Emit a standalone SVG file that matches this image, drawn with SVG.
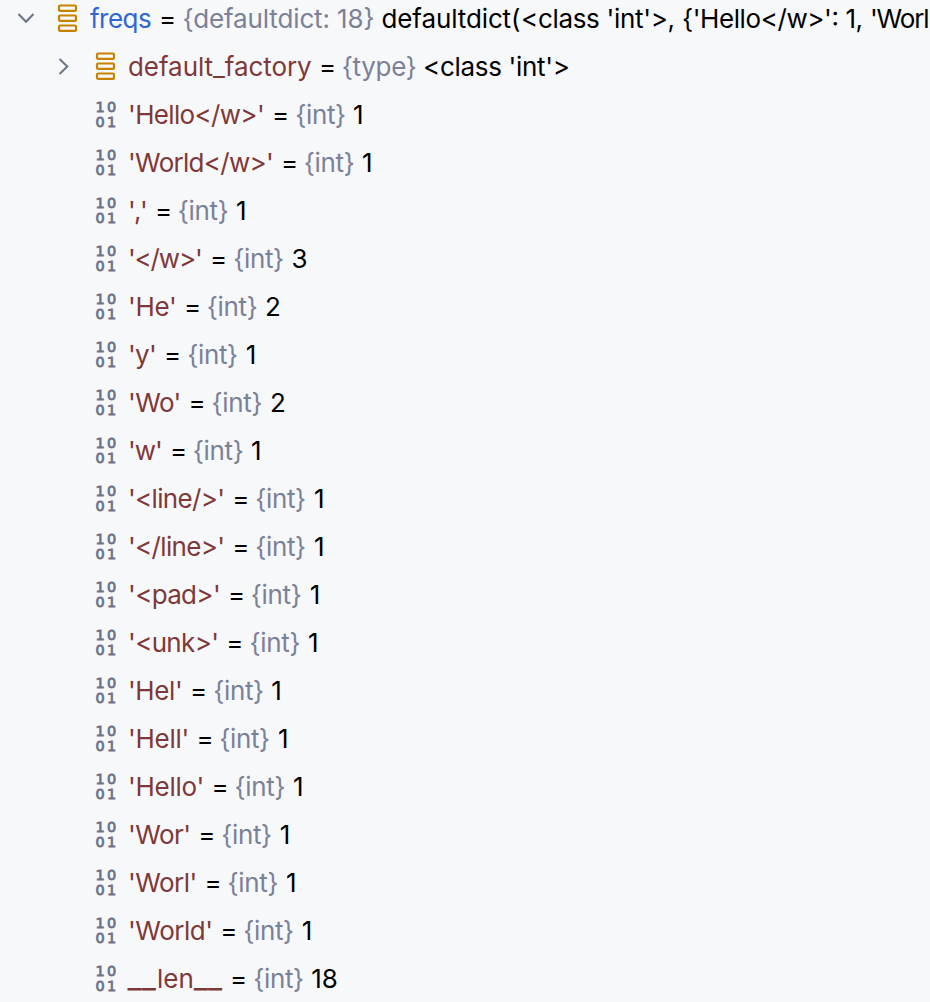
<svg xmlns="http://www.w3.org/2000/svg" width="930" height="1002" viewBox="0 0 930 1002">
<style>
text{font-family:Inter,"Liberation Sans",sans-serif;font-size:26px;fill:#000;white-space:pre}
.k{fill:#7f3838}.n{fill:#2f66d4}.t{fill:#7b8196}
.b text{font-family:"DejaVu Sans",sans-serif;font-size:14.400px;fill:#6c7488;stroke:#6c7488;stroke-width:.8px;letter-spacing:2.300px;text-anchor:middle}
.o rect{fill:none;stroke:#c78300;stroke-width:2.200}
.c{fill:none;stroke:#6c7488;stroke-width:2}
.u{font-size:31px}
</style>
<defs>
<g id="ic" class="o"><rect x="0.500" y="0.500" width="17" height="5.400" rx="1.200"/><rect x="0.500" y="10.500" width="17" height="5.400" rx="1.200"/><rect x="0.500" y="20.500" width="17" height="5.400" rx="1.200"/></g>
<g id="bi" class="b"><text x="0" y="0">10</text><text x="0" y="15.600">01</text></g>
</defs>
<rect width="930" height="1002" fill="#f7f8fa"/>
<g id="connectors"><path class="c" d="M18.500 14 L26 21.800 L33.500 14"/><path class="c" d="M59.500 59 L67.300 66.500 L59.500 74"/></g>
<g id="freqs"><use href="#ic" x="58.500" y="5"/><text x="90" y="27.700"><tspan class="n" textLength="61.700">freqs</tspan> <tspan x="159">= </tspan><tspan class="t" x="182.500" textLength="192">{defaultdict: 18}</tspan> <tspan x="381.500" textLength="139">defaultdict(</tspan><tspan x="521" textLength="161">&lt;class 'int'&gt;, </tspan><tspan x="682" textLength="188">{'Hello&lt;/w&gt;': 1, </tspan><tspan x="870" textLength="59.500">'Worl</tspan></text></g>
<g id="default_factory"><use href="#ic" x="96.500" y="53"/><text x="128" y="75.700"><tspan class="k" textLength="183.700">default_factory</tspan> <tspan x="319">= </tspan><tspan class="t" x="341.800" textLength="75">{type}</tspan> <tspan x="423" textLength="147">&lt;class 'int'&gt;</tspan></text></g>
<g id="r1"><use href="#bi" x="107" y="111.700"/><text y="123.700"><tspan class="k" x="128" textLength="136.700">'Hello&lt;/w&gt;'</tspan> <tspan x="272">= </tspan><tspan class="t" x="295.200" textLength="51">{int}</tspan> <tspan x="353">1</tspan></text></g>
<g id="r2"><use href="#bi" x="107" y="159.700"/><text y="171.700"><tspan class="k" x="128" textLength="145.700">'World&lt;/w&gt;'</tspan> <tspan x="281">= </tspan><tspan class="t" x="303.800" textLength="51">{int}</tspan> <tspan x="362">1</tspan></text></g>
<g id="r3"><use href="#bi" x="107" y="207.700"/><text y="219.700"><tspan class="k" x="128" textLength="19.700">','</tspan> <tspan x="155">= </tspan><tspan class="t" x="177.800" textLength="51">{int}</tspan> <tspan x="236">1</tspan></text></g>
<g id="r4"><use href="#bi" x="107" y="255.700"/><text y="267.700"><tspan class="k" x="128" textLength="74.700">'&lt;/w&gt;'</tspan> <tspan x="210">= </tspan><tspan class="t" x="233.200" textLength="51">{int}</tspan> <tspan x="291.500">3</tspan></text></g>
<g id="r5"><use href="#bi" x="107" y="303.700"/><text y="315.700"><tspan class="k" x="128" textLength="48.700">'He'</tspan> <tspan x="184">= </tspan><tspan class="t" x="206.800" textLength="51">{int}</tspan> <tspan x="265">2</tspan></text></g>
<g id="r6"><use href="#bi" x="107" y="351.700"/><text y="363.700"><tspan class="k" x="128" textLength="28.700">'y'</tspan> <tspan x="164">= </tspan><tspan class="t" x="187.200" textLength="51">{int}</tspan> <tspan x="245.700">1</tspan></text></g>
<g id="r7"><use href="#bi" x="107" y="399.700"/><text y="411.700"><tspan class="k" x="128" textLength="53.300">'Wo'</tspan> <tspan x="188.600">= </tspan><tspan class="t" x="211.500" textLength="51">{int}</tspan> <tspan x="270">2</tspan></text></g>
<g id="r8"><use href="#bi" x="107" y="447.700"/><text y="459.700"><tspan class="k" x="128" textLength="34.700">'w'</tspan> <tspan x="170">= </tspan><tspan class="t" x="192.800" textLength="51">{int}</tspan> <tspan x="251">1</tspan></text></g>
<g id="r9"><use href="#bi" x="107" y="495.700"/><text y="507.700"><tspan class="k" x="128" textLength="97">'&lt;line/&gt;'</tspan> <tspan x="232.300">= </tspan><tspan class="t" x="255.200" textLength="51">{int}</tspan> <tspan x="314">1</tspan></text></g>
<g id="r10"><use href="#bi" x="107" y="543.700"/><text y="555.700"><tspan class="k" x="128" textLength="97">'&lt;/line&gt;'</tspan> <tspan x="232.300">= </tspan><tspan class="t" x="255.200" textLength="51">{int}</tspan> <tspan x="314">1</tspan></text></g>
<g id="r11"><use href="#bi" x="107" y="591.700"/><text y="603.700"><tspan class="k" x="128" textLength="92.700">'&lt;pad&gt;'</tspan> <tspan x="228">= </tspan><tspan class="t" x="250.800" textLength="51">{int}</tspan> <tspan x="309.700">1</tspan></text></g>
<g id="r12"><use href="#bi" x="107" y="639.700"/><text y="651.700"><tspan class="k" x="128" textLength="91">'&lt;unk&gt;'</tspan> <tspan x="226.300">= </tspan><tspan class="t" x="249.500" textLength="51">{int}</tspan> <tspan x="308">1</tspan></text></g>
<g id="r13"><use href="#bi" x="107" y="687.700"/><text y="699.700"><tspan class="k" x="128" textLength="54.700">'Hel'</tspan> <tspan x="190">= </tspan><tspan class="t" x="213.200" textLength="51">{int}</tspan> <tspan x="271.300">1</tspan></text></g>
<g id="r14"><use href="#bi" x="107" y="735.700"/><text y="747.700"><tspan class="k" x="128" textLength="61.300">'Hell'</tspan> <tspan x="196.600">= </tspan><tspan class="t" x="219.200" textLength="51">{int}</tspan> <tspan x="278">1</tspan></text></g>
<g id="r15"><use href="#bi" x="107" y="783.700"/><text y="795.700"><tspan class="k" x="128" textLength="76.300">'Hello'</tspan> <tspan x="211.600">= </tspan><tspan class="t" x="234.500" textLength="51">{int}</tspan> <tspan x="293">1</tspan></text></g>
<g id="r16"><use href="#bi" x="107" y="831.700"/><text y="843.700"><tspan class="k" x="128" textLength="63">'Wor'</tspan> <tspan x="198.300">= </tspan><tspan class="t" x="221.200" textLength="51">{int}</tspan> <tspan x="279.700">1</tspan></text></g>
<g id="r17"><use href="#bi" x="107" y="879.700"/><text y="891.700"><tspan class="k" x="128" textLength="69.300">'Worl'</tspan> <tspan x="204.600">= </tspan><tspan class="t" x="227.500" textLength="51">{int}</tspan> <tspan x="286">1</tspan></text></g>
<g id="r18"><use href="#bi" x="107" y="927.700"/><text y="939.700"><tspan class="k" x="128" textLength="85">'World'</tspan> <tspan x="220.300">= </tspan><tspan class="t" x="243.200" textLength="51">{int}</tspan> <tspan x="301.700">1</tspan></text></g>
<g id="r19"><use href="#bi" x="107" y="975.700"/><text y="987.700"><tspan class="k u" x="127.500">__</tspan><tspan class="k" x="157">len</tspan><tspan class="k u" x="193.800">__</tspan> <tspan x="230">= </tspan><tspan class="t" x="253.200" textLength="51">{int}</tspan> <tspan x="311.300">18</tspan></text></g>
</svg>
